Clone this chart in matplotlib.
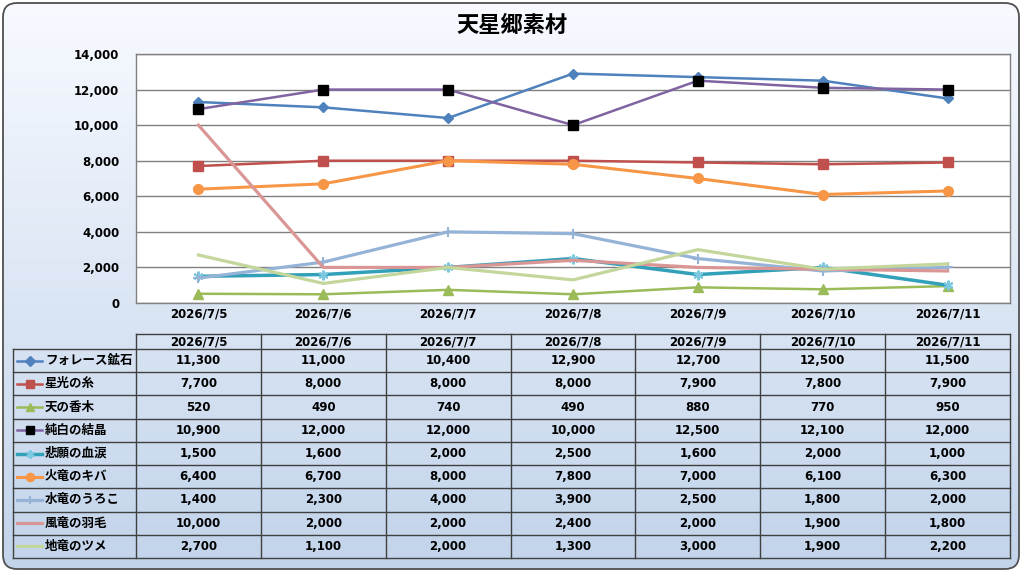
import matplotlib.pyplot as plt
import numpy as np
from matplotlib.patches import FancyBboxPatch
from matplotlib.lines import Line2D

plt.rcParams['font.family'] = ['DejaVu Sans', 'Noto Sans CJK JP']
jp = ['Noto Sans CJK JP', 'DejaVu Sans']

title = '天星郷素材'
dates = ['2026/7/5', '2026/7/6', '2026/7/7', '2026/7/8', '2026/7/9', '2026/7/10', '2026/7/11']

names = ['フォレース鉱石', '星光の糸', '天の香木', '純白の結晶', '悲願の血涙',
         '火竜のキバ', '水竜のうろこ', '風竜の羽毛', '地竜のツメ']
forest_ore = [11300, 11000, 10400, 12900, 12700, 12500, 11500]
starlight_thread = [7700, 8000, 8000, 8000, 7900, 7800, 7900]
heaven_wood = [520, 490, 740, 490, 880, 770, 950]
white_crystal = [10900, 12000, 12000, 10000, 12500, 12100, 12000]
tear_blood = [1500, 1600, 2000, 2500, 1600, 2000, 1000]
fire_fang = [6400, 6700, 8000, 7800, 7000, 6100, 6300]
water_scale = [1400, 2300, 4000, 3900, 2500, 1800, 2000]
wind_feather = [10000, 2000, 2000, 2400, 2000, 1900, 1800]
earth_claw = [2700, 1100, 2000, 1300, 3000, 1900, 2200]
series = [forest_ore, starlight_thread, heaven_wood, white_crystal, tear_blood,
          fire_fang, water_scale, wind_feather, earth_claw]

# line colour, marker, marker face, marker size, line width
styles = [
    ('#4F81BD', 'D', '#4F81BD', 5.5, 1.8),
    ('#C0504D', 's', '#C0504D', 6.5, 1.8),
    ('#9BBB59', '^', '#9BBB59', 7, 1.8),
    ('#8064A2', 's', '#000000', 7, 1.8),
    ('#31A0B8', (6, 2, 0), '#7CC8E0', 7, 2.5),
    ('#F79646', 'o', '#F79646', 7, 2.2),
    ('#95B3D7', '+', '#95B3D7', 7, 2.3),
    ('#DA9694', None, None, 0, 2.3),
    ('#C3D69B', None, None, 0, 2.3),
]

W, H = 1024, 573
fig = plt.figure(figsize=(W / 100, H / 100), dpi=100)
fig.patch.set_alpha(0)

# background with rounded frame
bg = fig.add_axes([0, 0, 1, 1], zorder=0)
bg.set_xlim(0, W)
bg.set_ylim(H, 0)
bg.axis('off')
frame = FancyBboxPatch((3, 3), W - 8, H - 7, boxstyle='round,pad=0,rounding_size=14',
                       facecolor='none', edgecolor='#505050', lw=1.3, zorder=3)
bg.add_patch(frame)
grad = np.linspace(0, 1, 256).reshape(-1, 1)
top = np.array([0.97, 0.98, 1.0])
bot = np.array([0.76, 0.83, 0.92])
img = top + (bot - top) * grad[..., None]
im = bg.imshow(img, extent=(3, W - 5, H - 4, 3), aspect='auto', zorder=1)
im.set_clip_path(frame)

bg.text(512, 25, title, ha='center', va='center', fontsize=16, fontweight='bold', family=jp)

# plot area
left, right, top_px, bottom_px = 136, 1010, 54, 303
ax = fig.add_axes([left / W, 1 - bottom_px / H, (right - left) / W, (bottom_px - top_px) / H], zorder=1)
ax.set_facecolor('white')
x = np.arange(len(dates))
for vals, (c, m, mf, ms, lw) in zip(series, styles):
    ax.plot(x, vals, color=c, lw=lw, marker=m, markerfacecolor=mf, markeredgecolor=mf,
            markersize=ms, markeredgewidth=1.5 if m in ('+', (6, 2, 0)) else 1, clip_on=False)
ax.set_xlim(-0.5, len(dates) - 0.5)
ax.set_ylim(0, 14000)
ax.set_yticks(range(0, 14001, 2000))
ax.set_yticklabels([f'{v:,}' for v in range(0, 14001, 2000)], fontsize=8.5, fontweight='bold')
ax.set_xticks(x)
ax.set_xticklabels(dates, fontsize=8.5, fontweight='bold')
ax.tick_params(length=0, pad=3)
ax.tick_params(axis='y', pad=12)
ax.grid(axis='y', color='#808080', lw=1)
ax.set_axisbelow(True)
for s in ax.spines.values():
    s.set_color('#808080')
    s.set_linewidth(1)

# data table
tab = fig.add_axes([0, 0, 1, 1], zorder=2)
tab.set_xlim(0, W)
tab.set_ylim(H, 0)
tab.axis('off')
col_w = (right - left) / len(dates)
head_top, head_bot, tab_bot = 334, 349, 558
row_h = (tab_bot - head_bot) / len(names)
lc = '#404040'
tab.plot([left, right], [head_top, head_top], color=lc, lw=1)
for i in range(len(dates) + 1):
    tab.plot([left + i * col_w] * 2, [head_top, tab_bot], color=lc, lw=1)
tab.plot([13, 13], [head_bot, tab_bot], color=lc, lw=1)
for j in range(len(names) + 1):
    tab.plot([13, right], [head_bot + j * row_h] * 2, color=lc, lw=1)
for i, d in enumerate(dates):
    tab.text(left + (i + 0.5) * col_w, (head_top + head_bot) / 2 + 0.5, d,
             ha='center', va='center', fontsize=8.5, fontweight='bold')
for j, (nm, vals, (c, m, mf, ms, lw)) in enumerate(zip(names, series, styles)):
    yc = head_bot + (j + 0.5) * row_h
    tab.add_line(Line2D([17, 42], [yc, yc], color=c, lw=lw))
    if m is not None:
        tab.plot([29.5], [yc], marker=m, color=mf, markersize=ms * 0.85, markeredgecolor=mf,
                 markeredgewidth=1.5 if m in ('+', (6, 2, 0)) else 1)
    tab.text(45, yc, nm, ha='left', va='center', fontsize=9, fontweight='bold', family=jp)
    for i, v in enumerate(vals):
        tab.text(left + (i + 0.5) * col_w, yc, f'{v:,}', ha='center', va='center',
                 fontsize=8.5, fontweight='bold')

fig.savefig('out.png', dpi=100)
